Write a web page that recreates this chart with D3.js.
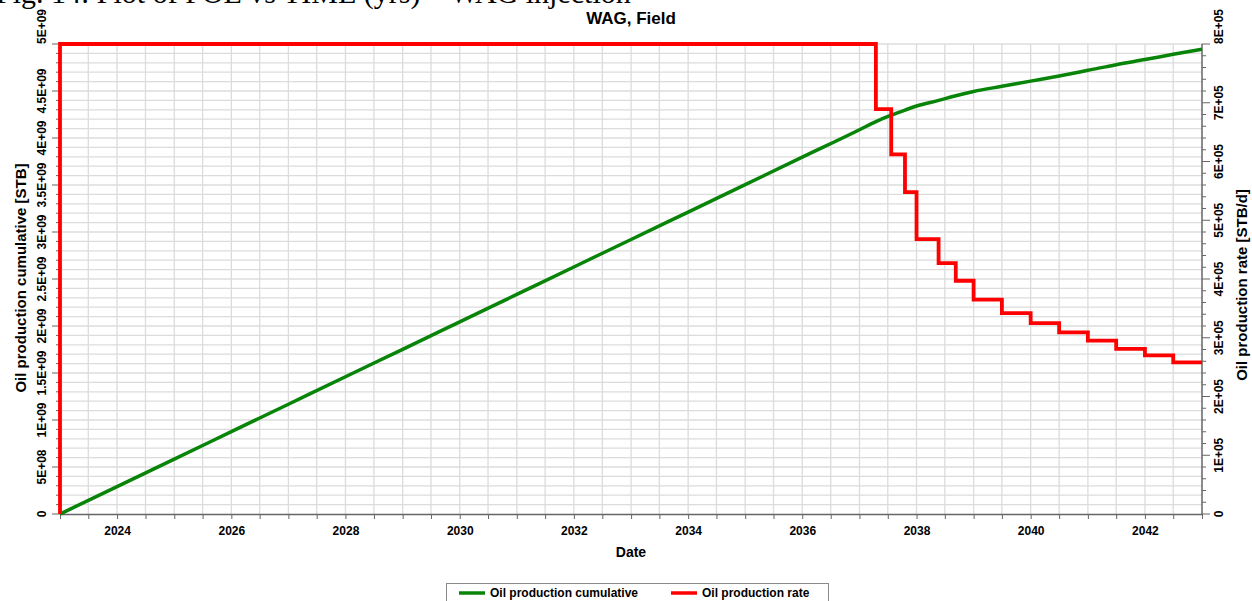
<!DOCTYPE html>
<html>
<head>
<meta charset="utf-8">
<script src="https://cdn.jsdelivr.net/npm/d3@7"></script>
<style>
  body { margin: 0; background: #fff; }
  svg { display: block; }
  text { font-family: "Liberation Sans", Arial, sans-serif; }
</style>
</head>
<body>
<script>
// WAG, Field - oil production cumulative and rate vs date

// oil production rate (STB/d), step values starting at each date
var rateDates = ["2023-01-01", "2023-01-01", "2037-04-16", "2037-07-23", "2037-10-19", "2038-01-01",
  "2038-05-22", "2038-09-09", "2039-01-01", "2039-07-01", "2040-01-01", "2040-07-01",
  "2041-01-01", "2041-07-01", "2042-01-01", "2042-07-01", "2043-01-01"];
var rateValues = [0, 800000, 689000, 612000, 548000, 468000,
  427000, 397000, 365000, 342000, 325000, 309000,
  295000, 281000, 270000, 258000, 258000];

// oil production cumulative (STB)
var cumDates = ["2023-01-01", "2024-01-01", "2025-01-01", "2026-01-01", "2027-01-01", "2028-01-01",
  "2029-01-01", "2030-01-01", "2031-01-01", "2032-01-01", "2033-01-01", "2034-01-01",
  "2035-01-01", "2036-01-01", "2037-01-01", "2037-04-16", "2037-07-23", "2037-10-19",
  "2038-01-01", "2038-05-22", "2038-09-09", "2039-01-01", "2039-07-01", "2040-01-01",
  "2040-07-01", "2041-01-01", "2041-07-01", "2042-01-01", "2042-07-01", "2043-01-01"];
var cumValues = [0, 2.92e8, 5.84e8, 8.76e8, 1.168e9, 1.46e9,
  1.752e9, 2.044e9, 2.336e9, 2.628e9, 2.92e9, 3.212e9,
  3.504e9, 3.796e9, 4.088e9, 4.175e9, 4.243e9, 4.297e9,
  4.34e9, 4.40e9, 4.45e9, 4.495e9, 4.55e9, 4.605e9,
  4.66e9, 4.72e9, 4.78e9, 4.835e9, 4.89e9, 4.945e9];

// tick labels
var xTickYears = [2024, 2026, 2028, 2030, 2032, 2034, 2036, 2038, 2040, 2042];
var leftTickLabels = ["0", "5E+08", "1E+09", "1.5E+09", "2E+09", "2.5E+09", "3E+09", "3.5E+09", "4E+09", "4.5E+09", "5E+09"];
var rightTickLabels = ["0", "1E+05", "2E+05", "3E+05", "4E+05", "5E+05", "6E+05", "7E+05", "8E+05"];

var parseDate = d3.timeParse("%Y-%m-%d");
var rateData = rateDates.map(function(d, i){ return {date: parseDate(d), value: rateValues[i]}; });
var cumData = cumDates.map(function(d, i){ return {date: parseDate(d), value: cumValues[i]}; });

var W = 1252, H = 601;
// plot area (note: "top" is a reserved window property, so use other names)
var pLeft = 60, pRight = 1202, pTop = 44, pBottom = 514;

var svg = d3.select("body").append("svg").attr("width", W).attr("height", H);

var x = d3.scaleTime()
  .domain([parseDate("2023-01-01"), parseDate("2043-01-01")])
  .range([pLeft, pRight]);
var yL = d3.scaleLinear().domain([0, 5e9]).range([pBottom, pTop]);
var yR = d3.scaleLinear().domain([0, 8e5]).range([pBottom, pTop]);

// document caption, cut off at the top of the picture
svg.append("text")
  .attr("x", -4).attr("y", 3)
  .style("font-family", "'Liberation Serif', 'Times New Roman', serif")
  .attr("font-size", "30px")
  .attr("fill", "#000")
  .text("Fig. 14: Plot of FOE vs TIME (yrs) \u2013 WAG injection");

// grid
var grid = svg.append("g").attr("stroke", "#dcdcdc").attr("stroke-width", 1.3);
grid.selectAll(".gx").data(d3.timeMonth.every(6).range(x.domain()[0], x.domain()[1]).slice(1))
  .enter().append("line")
  .attr("x1", function(d){ return x(d); }).attr("x2", function(d){ return x(d); })
  .attr("y1", pTop).attr("y2", pBottom);
grid.selectAll(".gy").data(d3.range(1, 51).map(function(i){ return i * 1e8; }))
  .enter().append("line")
  .attr("x1", pLeft).attr("x2", pRight)
  .attr("y1", function(d){ return yL(d); }).attr("y2", function(d){ return yL(d); });

var axisColor = "#666";

// bottom axis
var xAxis = svg.append("g").attr("transform", "translate(0," + pBottom + ")")
  .call(d3.axisBottom(x)
    .tickValues(d3.timeMonth.every(6).range(x.domain()[0], d3.timeDay.offset(x.domain()[1], 1)))
    .tickSize(5)
    .tickSizeOuter(0)
    .tickFormat(function(d){
      return (d.getMonth() == 0 && xTickYears.indexOf(d.getFullYear()) >= 0) ? d.getFullYear() : "";
    }));
xAxis.attr("font-family", null);
xAxis.select(".domain").attr("stroke", axisColor).attr("stroke-width", 1.5);
xAxis.selectAll(".tick line").attr("stroke", axisColor);
xAxis.selectAll(".tick text")
  .attr("font-size", "12px").attr("font-weight", "bold").attr("fill", "#000")
  .attr("dy", "1.05em");

// left axis
var lAxis = svg.append("g").attr("transform", "translate(" + pLeft + ",0)");
lAxis.append("line").attr("x1", 0).attr("x2", 0).attr("y1", pTop).attr("y2", pBottom)
  .attr("stroke", axisColor).attr("stroke-width", 1.5);
lAxis.selectAll(".lt").data(d3.range(0, 51).map(function(i){ return i * 1e8; }))
  .enter().append("line")
  .attr("x1", function(d, i){ return i % 5 == 0 ? -8 : -4; }).attr("x2", 0)
  .attr("y1", function(d){ return yL(d); }).attr("y2", function(d){ return yL(d); })
  .attr("stroke", axisColor);
lAxis.selectAll(".ll").data(leftTickLabels)
  .enter().append("text")
  .attr("transform", function(d, i){
    return "translate(-14," + yL(i * 5e8) + ") rotate(-90)";
  })
  .attr("text-anchor", function(d, i){ return i == leftTickLabels.length - 1 ? "start" : "middle"; })
  .attr("font-size", "12px").attr("font-weight", "bold")
  .text(function(d){ return d; });

// right axis
var rAxis = svg.append("g").attr("transform", "translate(" + pRight + ",0)");
rAxis.append("line").attr("x1", 0).attr("x2", 0).attr("y1", pTop).attr("y2", pBottom)
  .attr("stroke", axisColor).attr("stroke-width", 1.5);
rAxis.selectAll(".rt").data(d3.range(0, 41).map(function(i){ return i * 2e4; }))
  .enter().append("line")
  .attr("x1", 0).attr("x2", function(d, i){ return i % 5 == 0 ? 8 : 4; })
  .attr("y1", function(d){ return yR(d); }).attr("y2", function(d){ return yR(d); })
  .attr("stroke", axisColor);
rAxis.selectAll(".rl").data(rightTickLabels)
  .enter().append("text")
  .attr("transform", function(d, i){
    return "translate(21," + yR(i * 1e5) + ") rotate(-90)";
  })
  .attr("text-anchor", function(d, i){ return i == rightTickLabels.length - 1 ? "start" : "middle"; })
  .attr("font-size", "12px").attr("font-weight", "bold")
  .text(function(d){ return d; });

// lines
var rateLine = d3.line()
  .x(function(d){ return x(d.date); })
  .y(function(d){ return yR(d.value); })
  .curve(d3.curveStepAfter);
var cumLine = d3.line()
  .x(function(d){ return x(d.date); })
  .y(function(d){ return yL(d.value); })
  .curve(d3.curveMonotoneX);

svg.append("path").datum(cumData)
  .attr("d", cumLine)
  .attr("fill", "none").attr("stroke", "#088408").attr("stroke-width", 3.5);
svg.append("path").datum(rateData)
  .attr("d", rateLine)
  .attr("fill", "none").attr("stroke", "#ff0000").attr("stroke-width", 3.8)
  .attr("stroke-linejoin", "miter");

// titles
svg.append("text")
  .attr("x", (pLeft + pRight) / 2).attr("y", 24)
  .attr("text-anchor", "middle")
  .attr("font-size", "17px").attr("font-weight", "bold")
  .text("WAG, Field");
svg.append("text")
  .attr("x", (pLeft + pRight) / 2).attr("y", 557)
  .attr("text-anchor", "middle")
  .attr("font-size", "14px").attr("font-weight", "bold")
  .text("Date");
svg.append("text")
  .attr("transform", "translate(26," + 278 + ") rotate(-90)")
  .attr("text-anchor", "middle")
  .attr("font-size", "15px").attr("font-weight", "bold")
  .text("Oil production cumulative [STB]");
svg.append("text")
  .attr("transform", "translate(1247," + 285 + ") rotate(-90)")
  .attr("text-anchor", "middle")
  .attr("font-size", "15px").attr("font-weight", "bold")
  .text("Oil production rate [STB/d]");

// legend
var legend = svg.append("g");
legend.append("rect")
  .attr("x", 446.5).attr("y", 583.5).attr("width", 382).attr("height", 30)
  .attr("fill", "#fff").attr("stroke", "#8a8a8a");
var items = [
  {name: "Oil production cumulative", color: "#088408", x: 459},
  {name: "Oil production rate", color: "#ff0000", x: 671}
];
items.forEach(function(it){
  legend.append("line")
    .attr("x1", it.x).attr("x2", it.x + 26).attr("y1", 593).attr("y2", 593)
    .attr("stroke", it.color).attr("stroke-width", 3.5);
  legend.append("text")
    .attr("x", it.x + 31).attr("y", 597)
    .attr("font-size", "12px").attr("font-weight", "bold")
    .text(it.name);
});
</script>
</body>
</html>
